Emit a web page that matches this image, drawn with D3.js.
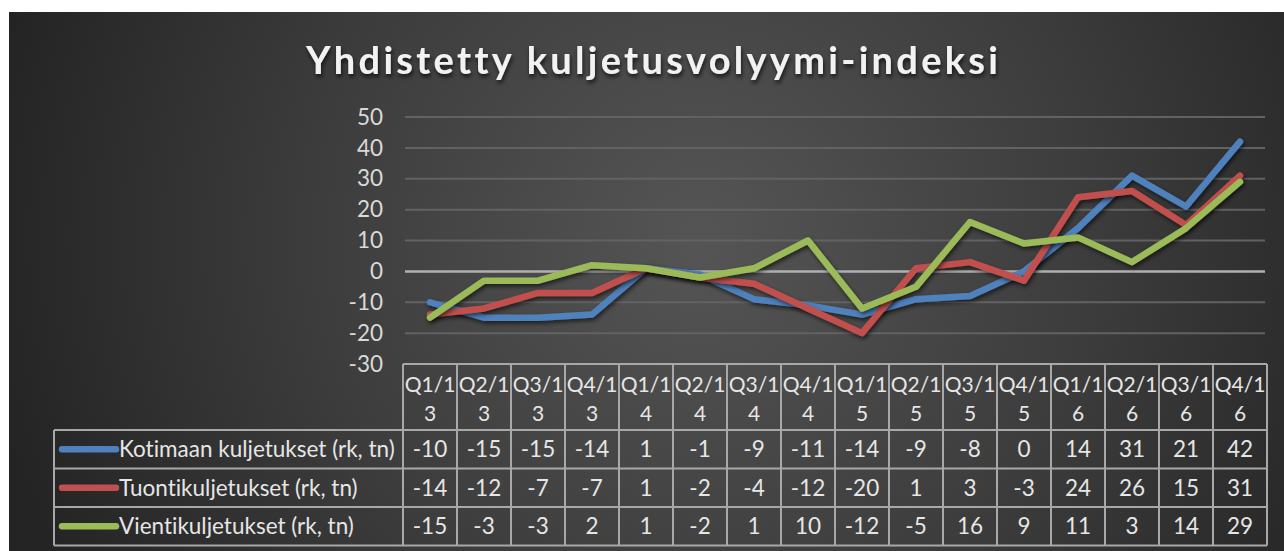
<!DOCTYPE html>
<html>
<head>
<meta charset="utf-8">
<script src="https://cdn.jsdelivr.net/npm/d3@7"></script>
<style>
  body { margin: 0; background: #fff; }
  svg { display: block; font-family: Lato, "Open Sans", sans-serif; font-variant-ligatures: none; }
</style>
</head>
<body>
<div id="chart"></div>
<script>
// data
var categories = ["Q1/13", "Q2/13", "Q3/13", "Q4/13", "Q1/14", "Q2/14", "Q3/14", "Q4/14",
                  "Q1/15", "Q2/15", "Q3/15", "Q4/15", "Q1/16", "Q2/16", "Q3/16", "Q4/16"];
var kotimaan = [-10, -15, -15, -14, 1, -1, -9, -11, -14, -9, -8, 0, 14, 31, 21, 42];
var tuonti   = [-14, -12, -7, -7, 1, -2, -4, -12, -20, 1, 3, -3, 24, 26, 15, 31];
var vienti   = [-15, -3, -3, 2, 1, -2, 1, 10, -12, -5, 16, 9, 11, 3, 14, 29];
var seriesNames = ["Kotimaan kuljetukset (rk, tn)", "Tuontikuljetukset (rk, tn)", "Vientikuljetukset (rk, tn)"];
var seriesColors = ["#4F81BD", "#C0504D", "#9BBB59"];
var yTicks = [-30, -20, -10, 0, 10, 20, 30, 40, 50];

var series = [kotimaan, tuonti, vienti].map(function(vals, i) {
    return { name: seriesNames[i], color: seriesColors[i], values: vals };
});

var svgWidth = 1284, svgHeight = 551;
var plot = { left: 403, right: 1267, top: 117, bottom: 364 };
var headerH = 66, rowH = 38.5, legendLeft = 54;
var fontSize = 22.5;

var svg = d3.select("#chart").append("svg")
    .attr("width", svgWidth)
    .attr("height", svgHeight);

var defs = svg.append("defs");
var grad = defs.append("radialGradient")
    .attr("id", "bg")
    .attr("gradientUnits", "userSpaceOnUse")
    .attr("cx", 700).attr("cy", 240).attr("r", 720);
grad.append("stop").attr("offset", "0%").attr("stop-color", "#555555");
grad.append("stop").attr("offset", "55%").attr("stop-color", "#3c3c3c");
grad.append("stop").attr("offset", "100%").attr("stop-color", "#242424");

var shadow = defs.append("filter").attr("id", "shadow")
    .attr("x", "-10%").attr("y", "-10%").attr("width", "120%").attr("height", "130%");
shadow.append("feDropShadow")
    .attr("dx", 1.5).attr("dy", 2.5).attr("stdDeviation", 2)
    .attr("flood-color", "#000").attr("flood-opacity", 0.6);

var tshadow = defs.append("filter").attr("id", "tshadow")
    .attr("x", "-5%").attr("y", "-20%").attr("width", "110%").attr("height", "150%");
tshadow.append("feDropShadow")
    .attr("dx", 1).attr("dy", 3).attr("stdDeviation", 2)
    .attr("flood-color", "#000").attr("flood-opacity", 0.7);

// background
svg.append("rect")
    .attr("x", 9).attr("y", 12)
    .attr("width", svgWidth - 9).attr("height", svgHeight - 12)
    .attr("fill", "url(#bg)");

// title
svg.append("text")
    .attr("x", 652).attr("y", 74)
    .attr("text-anchor", "middle")
    .attr("fill", "#f2f2f2")
    .attr("font-size", 38)
    .attr("font-weight", "bold")
    .attr("textLength", 692)
    .attr("lengthAdjust", "spacing")
    .attr("filter", "url(#tshadow)")
    .text("Yhdistetty kuljetusvolyymi-indeksi");

// scales
var x = d3.scaleBand().domain(categories).range([plot.left, plot.right]).padding(0);
var y = d3.scaleLinear().domain([-30, 50]).range([plot.bottom, plot.top]);

// gridlines
svg.append("g")
    .selectAll("line")
    .data(yTicks.filter(function(d) { return d > -30; }))
    .enter().append("line")
    .attr("x1", plot.left + 2).attr("x2", plot.right - 2)
    .attr("y1", function(d) { return y(d); })
    .attr("y2", function(d) { return y(d); })
    .attr("stroke", function(d) { return d === 0 ? "#b0b0b0" : "#626262"; })
    .attr("stroke-width", function(d) { return d === 0 ? 2.5 : 2; });

// y axis
var yAxis = svg.append("g")
    .attr("transform", "translate(" + (plot.left - 20) + ",0)")
    .call(d3.axisLeft(y).tickValues(yTicks).tickSize(0).tickPadding(0)
        .tickFormat(function(d) { return String(d); }));
yAxis.select(".domain").remove();
yAxis.selectAll("text")
    .attr("fill", "#d9d9d9")
    .attr("font-size", fontSize)
    .attr("font-family", "Lato, 'Open Sans', sans-serif");

// lines
var line = d3.line()
    .x(function(d, i) { return x(categories[i]) + x.bandwidth() / 2; })
    .y(function(d) { return y(d); });

svg.append("g").selectAll("path")
    .data(series)
    .enter().append("path")
    .attr("d", function(d) { return line(d.values); })
    .attr("fill", "none")
    .attr("stroke", function(d) { return d.color; })
    .attr("stroke-width", 6.5)
    .attr("stroke-linecap", "round")
    .attr("stroke-linejoin", "round")
    .attr("filter", "url(#shadow)");

// data table
var table = svg.append("g");
var tTop = plot.bottom;
var headerBottom = tTop + headerH;
var tBottom = headerBottom + rowH * 3;
var borderColor = "#a8a8a8";
var textColor = "#e6e6e6";

// horizontal lines
table.append("line")
    .attr("x1", plot.left).attr("x2", plot.right)
    .attr("y1", tTop).attr("y2", tTop);
[0, 1, 2, 3].forEach(function(r) {
    table.append("line")
        .attr("x1", legendLeft).attr("x2", plot.right)
        .attr("y1", headerBottom + r * rowH).attr("y2", headerBottom + r * rowH);
});
// vertical lines
categories.forEach(function(c) {
    table.append("line")
        .attr("x1", x(c)).attr("x2", x(c))
        .attr("y1", tTop).attr("y2", tBottom);
});
table.append("line")
    .attr("x1", plot.right).attr("x2", plot.right)
    .attr("y1", tTop).attr("y2", tBottom);
table.append("line")
    .attr("x1", legendLeft).attr("x2", legendLeft)
    .attr("y1", headerBottom).attr("y2", tBottom);
table.selectAll("line")
    .attr("stroke", borderColor)
    .attr("stroke-width", 2);

// header text
var header = table.append("g").selectAll("text")
    .data(categories)
    .enter().append("text")
    .attr("text-anchor", "middle")
    .attr("fill", textColor)
    .attr("font-size", 21);
header.append("tspan")
    .attr("x", function(d) { return x(d) + x.bandwidth() / 2; })
    .attr("y", tTop + 28)
    .text(function(d) { return d.slice(0, 4); });
header.append("tspan")
    .attr("x", function(d) { return x(d) + x.bandwidth() / 2; })
    .attr("y", tTop + 57)
    .text(function(d) { return d.slice(4); });

// rows
series.forEach(function(s, r) {
    var cy = headerBottom + r * rowH + rowH / 2;
    table.append("line")
        .attr("x1", legendLeft + 8).attr("x2", legendLeft + 62)
        .attr("y1", cy).attr("y2", cy)
        .attr("stroke", s.color)
        .attr("stroke-width", 6.5)
        .attr("stroke-linecap", "round");
    table.append("text")
        .attr("x", legendLeft + 65).attr("y", cy + 8)
        .attr("fill", textColor)
        .attr("font-size", fontSize)
        .text(s.name);
    table.append("g").selectAll("text")
        .data(s.values)
        .enter().append("text")
        .attr("x", function(d, i) { return x(categories[i]) + x.bandwidth() / 2; })
        .attr("y", cy + 8)
        .attr("text-anchor", "middle")
        .attr("fill", textColor)
        .attr("font-size", fontSize)
        .text(function(d) { return d; });
});
</script>
</body>
</html>
